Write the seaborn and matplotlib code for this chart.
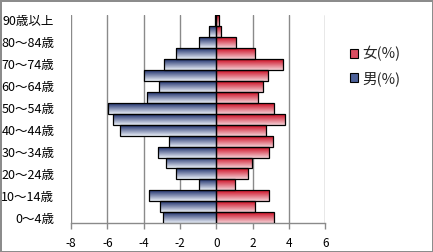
import numpy as np
import pandas as pd
import matplotlib
matplotlib.use("Agg")
import matplotlib.pyplot as plt
import seaborn as sns
from matplotlib.patches import Patch

# ---- data ----
age_groups = ["0〜4歳", "5〜9歳", "10〜14歳", "15〜19歳", "20〜24歳", "25〜29歳",
              "30〜34歳", "35〜39歳", "40〜44歳", "45〜49歳", "50〜54歳", "55〜59歳",
              "60〜64歳", "65〜69歳", "70〜74歳", "75〜79歳", "80〜84歳", "85〜89歳",
              "90歳以上"]
male = [-2.92, -3.08, -3.69, -0.94, -2.22, -2.77, -3.19, -2.59, -5.28, -5.67,
        -5.94, -3.83, -3.17, -3.96, -2.86, -2.20, -0.97, -0.39, -0.05]
female = [3.19, 2.15, 2.92, 1.05, 1.76, 1.95, 2.92, 3.14, 2.75, 3.80,
          3.19, 2.31, 2.59, 2.86, 3.69, 2.15, 1.08, 0.28, 0.17]
series_names = ["男(%)", "女(%)"]
x_ticks = [-8, -6, -4, -2, 0, 2, 4, 6]

sns.set_theme(style="white")
plt.rcParams["font.family"] = ["Noto Sans CJK JP", "DejaVu Sans"]
plt.rcParams["axes.unicode_minus"] = False

df = pd.DataFrame({
    "age": age_groups * 2,
    "value": male + female,
    "sex": [series_names[0]] * len(age_groups) + [series_names[1]] * len(age_groups),
})

fig = plt.figure(figsize=(4.33, 2.52), dpi=100)
fig.patch.set_facecolor("white")
fig.patch.set_edgecolor("#8c8c8c")
fig.patch.set_linewidth(2.0)
ax = fig.add_axes([71 / 433, 1 - 223.3 / 252, (325.3 - 71) / 433, (223.3 - 15) / 252])

order = age_groups[::-1]
dark = {series_names[0]: np.array([0.11, 0.18, 0.42]), series_names[1]: np.array([0.80, 0.04, 0.13])}
light = {series_names[0]: np.array([0.92, 0.94, 0.97]), series_names[1]: np.array([0.96, 0.82, 0.84])}

for name in series_names:
    sub = df[df["sex"] == name]
    sns.barplot(data=sub, x="value", y="age", order=order, orient="h",
                color=dark[name], width=1.0, edgecolor="black", linewidth=0.9,
                ax=ax, zorder=3)

# gradient fill clipped to each bar
bars = list(ax.patches)
n = len(age_groups)
t = np.linspace(0, 1, 64)[:, None]
for i, p in enumerate(bars):
    name = series_names[0] if i < n else series_names[1]
    d, l = dark[name], light[name]
    grad = d[None, :] * (1 - t) + l[None, :] * t
    img = np.concatenate([grad, np.ones((64, 1))], axis=1)[:, None, :]
    x0, y0, w, h = p.get_x(), p.get_y(), p.get_width(), p.get_height()
    xa, xb = min(x0, x0 + w), max(x0, x0 + w)
    im = ax.imshow(img, extent=(xa, xb, y0 + h, y0), origin="upper",
                   aspect="auto", interpolation="bilinear", zorder=3)
    im.set_clip_path(p)
    p.set_facecolor("none")
    p.set_zorder(4)

ax.set_xlim(-8, 6)
ax.set_ylim(n - 0.5, -0.5)
ax.set_xticks(x_ticks)
ax.set_xticklabels([str(v) for v in x_ticks])
ax.xaxis.grid(True, color="#8a8a8a", linewidth=1.0)
ax.set_axisbelow(True)
ax.set_xlabel("")
ax.set_ylabel("")

ytick_pos = [order.index(a) for a in age_groups[::2]]
ax.set_yticks(ytick_pos)
ax.set_yticklabels(age_groups[::2])

for s in ["top", "right", "left"]:
    ax.spines[s].set_visible(False)
ax.spines["bottom"].set_color("#8a8a8a")
ax.spines["bottom"].set_linewidth(1.0)
ax.tick_params(axis="x", bottom=True, length=4, width=1.0, color="#8a8a8a",
               labelsize=8.5, pad=6, labelcolor="black")
ax.tick_params(axis="y", left=False, length=0, labelsize=9, pad=12, labelcolor="black")

handles = [Patch(facecolor=(0.85, 0.3, 0.38), edgecolor="black", linewidth=0.8),
           Patch(facecolor=(0.3, 0.38, 0.6), edgecolor="black", linewidth=0.8)]
fig.legend(handles, [series_names[1], series_names[0]], loc="upper left",
           bbox_to_anchor=(340 / 433, 1 - 36 / 252), frameon=False,
           fontsize=10.5, handlelength=0.55, handleheight=0.55, handletextpad=0.3,
           labelspacing=0.65, borderpad=0.2)

fig.savefig("out.png", dpi=100)
